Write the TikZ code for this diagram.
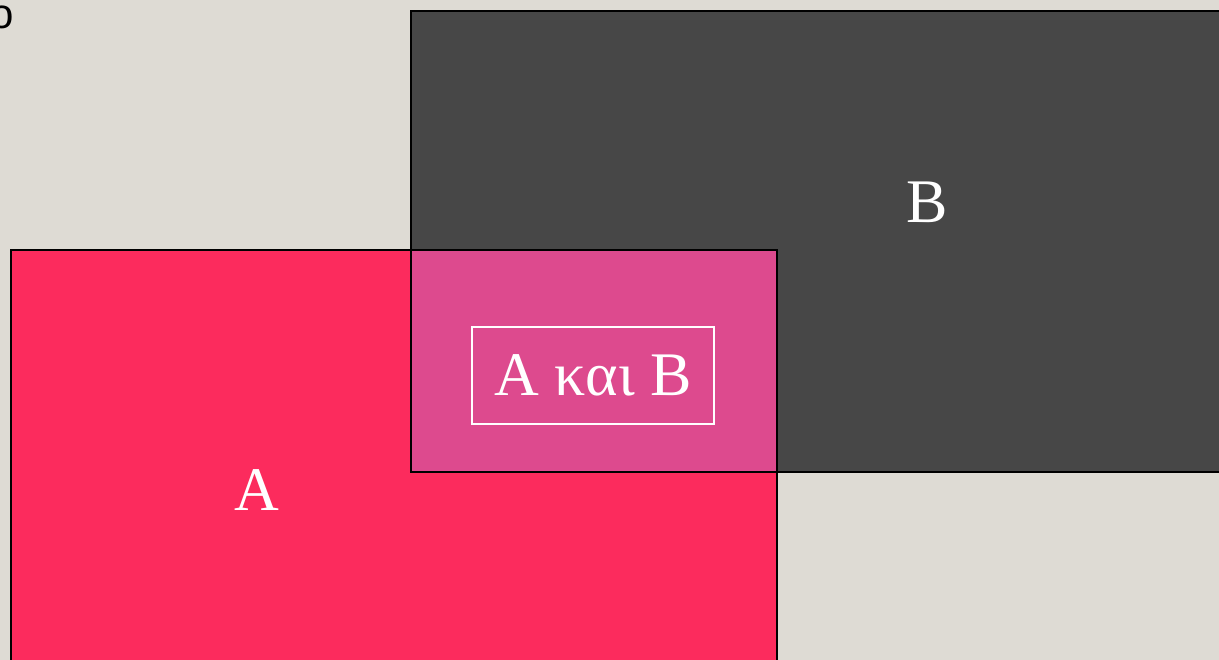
\documentclass[tikz,border=0pt]{standalone}
\usepackage{fontspec}
\setmainfont{Liberation Serif}
\newfontfamily\sansf{Liberation Sans}
\definecolor{bgc}{HTML}{DEDBD4}
\definecolor{acol}{HTML}{FC2B5D}
\definecolor{bcol}{HTML}{474747}
\definecolor{abcol}{HTML}{DD4A8E}
\tikzset{
  region/.style={draw=black, line width=2.8pt},
  biglabel/.style={text=white, font=\fontsize{62}{70}\selectfont, inner sep=0pt},
}
\begin{document}
\begin{tikzpicture}[x=1pt,y=-1pt]
\useasboundingbox (0,0) rectangle (1219,660);
\clip (0,0) rectangle (1219,660);
\fill[bgc] (0,0) rectangle (1219,660);
% partial glyph at top-left
\node[anchor=east, inner sep=0pt, font=\sansf\fontsize{42}{42}\selectfont] (o) at (14,17) {o};
% region fills
\fill[acol] (11,250) rectangle (777,690);
\fill[bcol] (411,11) rectangle (1250,472);
\fill[abcol] (411,250) rectangle (777,472);
% borders
\draw[region] (11,690) -- (11,250) -- (777,250) -- (777,690);
\draw[region] (1250,11) -- (411,11) -- (411,472) -- (1250,472);
% labels
\node[biglabel] (la) at (257,490) {A};
\node[biglabel] (lb) at (927,202) {B};
\node[draw=white, line width=2.2pt, minimum width=242pt, minimum height=97pt, text=white,
      font=\fontsize{62}{70}\selectfont, inner sep=0pt] (lab) at (593,375.5) {A και B};
\end{tikzpicture}
\end{document}
